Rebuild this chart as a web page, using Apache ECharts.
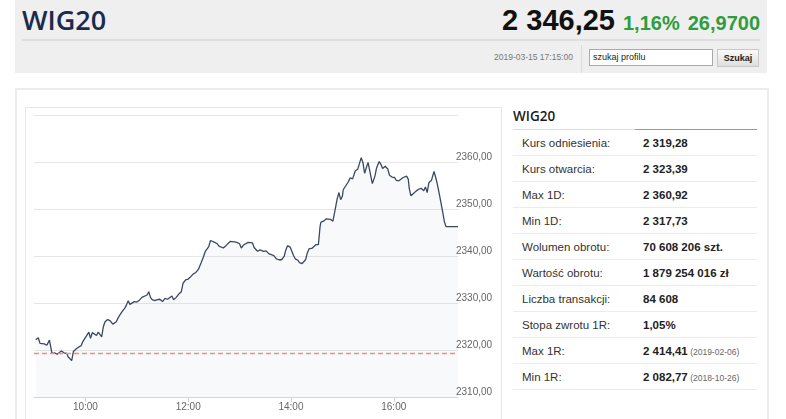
<!DOCTYPE html>
<html>
<head>
<meta charset="utf-8">
<script src="https://cdn.jsdelivr.net/npm/echarts@6/dist/echarts.min.js"></script>
<style>
  html, body { margin:0; padding:0; background:#fff; width:786px; height:419px; overflow:hidden; font-family:"Liberation Sans", Arial, sans-serif; }
  .abs { position:absolute; }
  #header { left:15px; top:0; width:752px; height:73px; background:#efefef; }
  #title { left:7px; top:2px; font-family:"Open Sans", sans-serif; font-weight:600; font-size:27px; color:#1a2b4c; line-height:36px; }
  #price { right:7px; top:2px; line-height:36px; white-space:nowrap; }
  #price .last { font-weight:bold; font-size:29px; color:#111; }
  #price .chg { font-weight:bold; font-size:20px; color:#2f9c3e; margin-left:8px; }
  #divider { left:7px; top:39px; width:738px; height:2px; background:#dedede; }
  #date { left:479px; top:51px; font-size:8.5px; color:#777; line-height:12px; }
  #sep { left:566px; top:45px; width:1px; height:28px; background:#dcdcdc; }
  #search { left:574px; top:49px; height:15px; background:#fff; border:1px solid #aaa; font-size:9px; color:#222; line-height:15px; padding-left:3px; box-sizing:content-box; width:119px; }
  #btn { left:702px; top:49px; width:40px; height:16px; border:1px solid #c8c8c8; background:linear-gradient(#fafafa,#dedede); font-size:9px; font-weight:bold; color:#222; text-align:center; line-height:16px; }
  #panel { left:15px; top:88px; width:750px; height:340px; border:2px solid #ececec; }
  #chartbox { left:25px; top:107px; width:475px; height:330px; border:1px solid #e6e6e6; }
  #chart { left:26px; top:108px; width:474px; height:311px; }
  #tbl { left:513px; top:104px; width:244px; }
  #tbltitle { font-family:"Open Sans", sans-serif; font-weight:600; font-size:13.5px; color:#1b1b1b; height:24px; line-height:24px; }
  #tblline { position:relative; height:1px; background:#dcdcdc; margin-top:1px; }
  #tblline div { position:absolute; left:122px; right:0; top:0; height:1px; background:#9a9a9a; }
  .row { height:25px; border-bottom:1px solid #ececec; position:relative; font-size:11.5px; line-height:26px; }
  .row .k { position:absolute; left:9px; color:#333; }
  .row .v { position:absolute; left:130px; font-weight:bold; color:#222; white-space:nowrap; }
  .row .n { font-weight:normal; font-size:8.5px; color:#666; }
</style>
</head>
<body>
<div id="header" class="abs">
  <div id="title" class="abs">WIG20</div>
  <div id="price" class="abs"><span class="last" id="lastv"></span><span class="chg" id="chgp"></span><span class="chg" id="chga"></span></div>
  <div id="divider" class="abs"></div>
  <div id="date" class="abs"></div>
  <div id="sep" class="abs"></div>
  <div id="search" class="abs">szukaj profilu</div>
  <div id="btn" class="abs">Szukaj</div>
</div>
<div id="panel" class="abs"></div>
<div id="chartbox" class="abs"></div>
<div id="chart" class="abs"></div>
<div id="tbl" class="abs">
  <div id="tbltitle">WIG20</div>
  <div id="tblline"><div></div></div>
  <div id="rows"></div>
</div>
<script>
// ---- data ----
const headerValues = ["2 346,25", "1,16%", "26,9700"];
const quoteTime = "2019-03-15 17:15:00";

const tableLabels = ["Kurs odniesienia:", "Kurs otwarcia:", "Max 1D:", "Min 1D:", "Wolumen obrotu:", "Wartość obrotu:", "Liczba transakcji:", "Stopa zwrotu 1R:", "Max 1R:", "Min 1R:"];
const tableValues = ["2 319,28", "2 323,39", "2 360,92", "2 317,73", "70 608 206 szt.", "1 879 254 016 zł", "84 608", "1,05%", "2 414,41", "2 082,77"];
const tableNotes  = ["", "", "", "", "", "", "", "", "(2019-02-06)", "(2018-10-26)"];

const referencePrice = 2319.28;

const xTickLabels = ["10:00", "12:00", "14:00", "16:00"];
const sessionStart = "09:00";
const sessionEnd = "17:15";
const yMin = 2310, yMax = 2370, yStep = 10;

const times = [
  "09:02","09:05","09:07","09:09","09:12","09:15","09:18","09:21","09:24","09:27","09:29","09:32","09:35","09:38","09:40","09:42","09:44","09:46","09:49","09:52","09:55","09:57","09:59",
  "10:02","10:04","10:06","10:08","10:10","10:13","10:15","10:17","10:19","10:21","10:23","10:26","10:29","10:32","10:36","10:39","10:43","10:46","10:48","10:50","10:52","10:54","10:57",
  "11:00","11:03","11:06","11:08","11:12","11:14","11:16","11:18","11:21","11:24","11:27","11:30","11:33","11:36","11:38","11:41","11:43","11:46","11:49","11:52","11:54","11:57",
  "12:00","12:03","12:06","12:09","12:12","12:15","12:18","12:20","12:24","12:26","12:28","12:31","12:34","12:36","12:38","12:41","12:44","12:46","12:49","12:51","12:54","12:57",
  "13:00","13:02","13:05","13:07","13:10","13:12","13:15","13:17","13:21","13:24","13:26","13:28","13:31","13:34","13:37","13:40","13:43","13:46","13:49","13:52","13:54","13:56","13:59",
  "14:01","14:03","14:05","14:08","14:10","14:13","14:15","14:17","14:19","14:21","14:23","14:25","14:27","14:29","14:32","14:34","14:35","14:38","14:39","14:41","14:43","14:46","14:49","14:52","14:54","14:56","14:58",
  "15:00","15:01","15:03","15:07","15:09","15:12","15:15","15:18","15:20","15:22","15:24","15:26","15:28","15:30","15:32","15:35","15:38","15:40","15:43","15:45","15:47","15:50","15:53","15:55","15:58",
  "16:01","16:03","16:06","16:08","16:11","16:15","16:17","16:18","16:20","16:23","16:26","16:29","16:32","16:35","16:37","16:39","16:41","16:44","16:46","16:47","16:49","16:50","16:51","16:54","16:57","16:59","17:01","17:15"
];
const values = [
  2322.2,2322.6,2321.4,2321.0,2321.3,2321.0,2322.1,2319.3,2319.4,2319.1,2319.4,2319.8,2319.4,2319.3,2318.5,2318.3,2317.73,2319.7,2320.2,2320.6,2320.9,2321.8,2321.5,
  2323.2,2323.8,2322.5,2323.7,2323.8,2323.1,2323.8,2323.5,2322.8,2325.0,2326.0,2326.5,2326.2,2325.5,2326.0,2327.1,2328.2,2328.9,2329.6,2330.5,2329.7,2329.4,2330.3,
  2330.2,2330.6,2331.2,2330.8,2331.7,2332.4,2331.2,2330.7,2330.5,2330.7,2330.8,2330.3,2331.0,2330.8,2330.5,2331.5,2330.7,2331.2,2331.9,2332.4,2334.2,2334.9,
  2335.1,2335.6,2336.2,2336.5,2337.2,2338.5,2339.9,2341.0,2342.0,2343.3,2343.5,2342.9,2342.6,2342.1,2342.2,2341.7,2342.2,2342.6,2343.1,2342.8,2343.0,2342.9,
  2342.6,2341.7,2342.4,2342.1,2342.9,2343.1,2342.8,2341.8,2341.0,2341.3,2341.5,2341.0,2341.1,2340.5,2340.3,2340.1,2339.4,2339.2,2339.2,2339.9,2341.3,2342.2,2341.9,
  2341.0,2340.1,2339.4,2339.1,2338.6,2338.4,2338.1,2339.2,2340.6,2341.5,2341.3,2341.7,2342.1,2342.4,2342.4,2346.3,2347.2,2347.4,2347.2,2347.9,2347.8,2347.8,2347.4,2350.3,2352.2,2353.5,2352.0,
  2352.7,2354.1,2354.2,2355.8,2356.6,2356.4,2358.1,2358.5,2359.7,2360.92,2359.9,2357.6,2358.8,2359.9,2358.1,2355.4,2357.0,2358.8,2360.1,2359.5,2358.6,2359.1,2358.5,2357.2,2356.8,
  2356.7,2356.1,2356.0,2356.3,2356.7,2357.0,2356.3,2354.5,2352.8,2353.3,2353.8,2354.2,2354.4,2353.9,2354.7,2353.5,2355.6,2356.1,2356.1,2358.0,2356.7,2357.0,2355.2,2352.4,2349.5,2347.4,2346.25,2346.25
];

// ---- page text ----
document.getElementById('lastv').textContent = headerValues[0];
document.getElementById('chgp').textContent = headerValues[1];
document.getElementById('chga').textContent = headerValues[2];
document.getElementById('date').textContent = quoteTime;
const rowsEl = document.getElementById('rows');
tableLabels.forEach((lab, i) => {
  const r = document.createElement('div'); r.className = 'row';
  const k = document.createElement('span'); k.className = 'k'; k.textContent = lab;
  const v = document.createElement('span'); v.className = 'v'; v.textContent = tableValues[i];
  if (tableNotes[i]) { const n = document.createElement('span'); n.className = 'n'; n.textContent = ' ' + tableNotes[i]; v.appendChild(n); }
  r.appendChild(k); r.appendChild(v); rowsEl.appendChild(r);
});

// ---- chart ----
const toMin = s => { const p = s.split(':'); return (+p[0]) * 60 + (+p[1]); };
const fmtMin = m => String(Math.floor(m / 60)).padStart(2, '0') + ':' + String(m % 60).padStart(2, '0');
const seriesData = times.map((t, i) => [toMin(t), values[i]]);
const tickMins = xTickLabels.map(toMin);

const chart = echarts.init(document.getElementById('chart'), null, { renderer: 'canvas' });
chart.setOption({
  animation: false,
  grid: { left: 8, top: 7, right: 42, bottom: 22, containLabel: false },
  xAxis: {
    type: 'value',
    min: toMin(sessionStart), max: toMin(sessionEnd),
    axisLine: { show: true, lineStyle: { color: '#ccd6eb', width: 1 } },
    axisTick: { show: true, length: 5, customValues: tickMins, lineStyle: { color: '#ccd6eb' } },
    axisLabel: { customValues: tickMins, formatter: v => fmtMin(v), color: '#666', fontSize: 10, margin: 5, fontFamily: 'Liberation Sans, Arial, sans-serif' },
    splitLine: { show: false }
  },
  yAxis: {
    type: 'value', position: 'right',
    min: yMin, max: yMax, interval: yStep,
    axisLine: { show: false }, axisTick: { show: false },
    splitLine: { show: true, lineStyle: { color: '#e6e6e6', width: 1 } },
    axisLabel: {
      showMaxLabel: false,
      formatter: v => v.toFixed(2).replace('.', ','),
      color: '#666', fontSize: 10, margin: -2, verticalAlign: 'bottom',
      fontFamily: 'Liberation Sans, Arial, sans-serif'
    }
  },
  series: [{
    type: 'line',
    data: seriesData,
    showSymbol: false,
    lineStyle: { color: '#3a4960', width: 1.3 },
    areaStyle: { color: 'rgba(70,90,120,0.055)', origin: 'start' },
    markLine: {
      silent: true, symbol: ['none', 'none'],
      label: { show: false },
      lineStyle: { color: '#f08c8c', type: [5, 3], width: 1.3 },
      data: [{ yAxis: referencePrice }]
    }
  }]
});
</script>
</body>
</html>
